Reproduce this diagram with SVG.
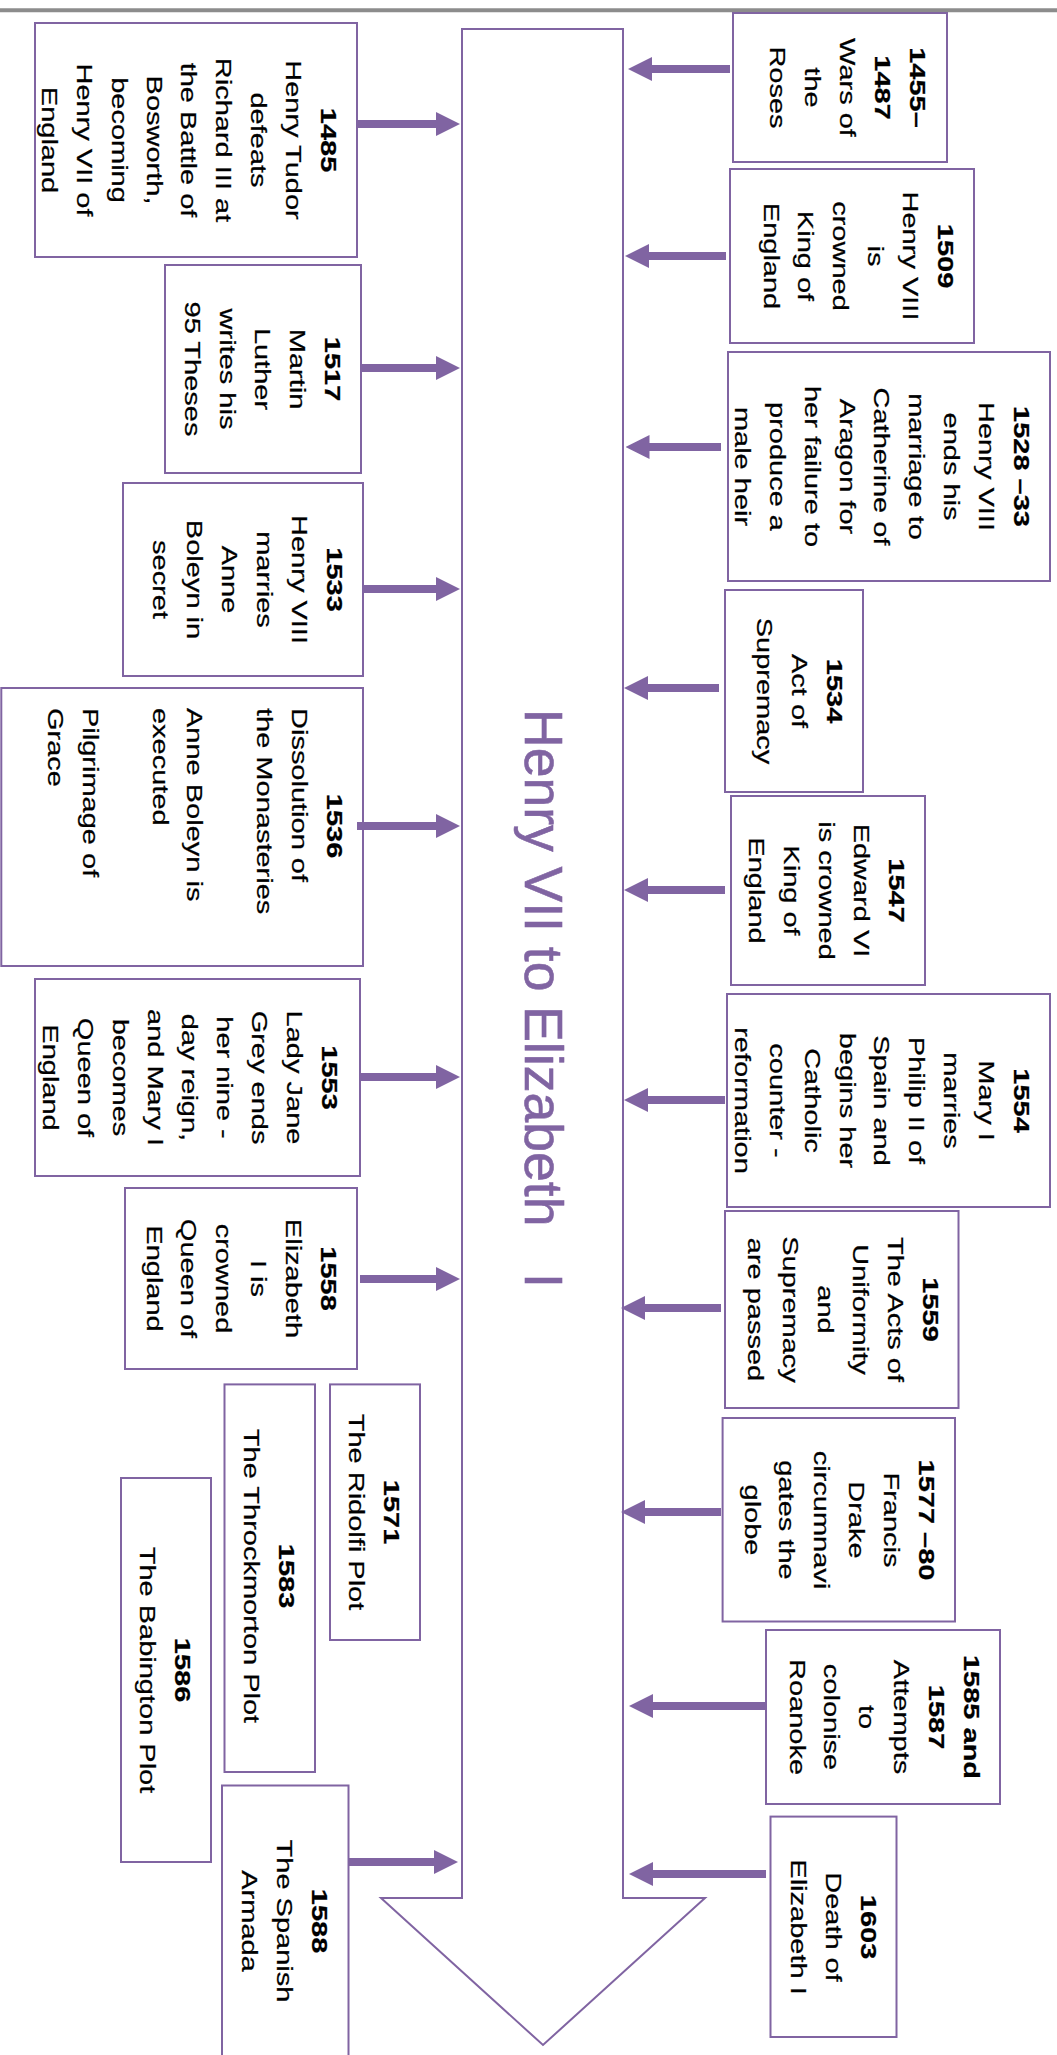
<svg xmlns="http://www.w3.org/2000/svg" width="1057" height="2055" viewBox="0 0 1057 2055">
<defs>
<style>
.box{fill:#fff;stroke:#8064A2;stroke-width:2}
.t{font-family:"Liberation Sans",Arial,sans-serif;font-size:29px;fill:#000;stroke:#000;stroke-width:0.3;text-anchor:middle}
.s{text-anchor:start}
.b{font-weight:bold}
.c{stroke:#8064A2;stroke-width:8;fill:none;marker-end:url(#ah)}
.title{font-family:"Liberation Sans",Arial,sans-serif;font-size:53.5px;fill:#8064A2;stroke:#8064A2;stroke-width:0.6}
</style>
<marker id="ah" markerUnits="userSpaceOnUse" markerWidth="24" markerHeight="24" refX="4" refY="12" orient="auto" viewBox="0 0 24 24">
<path d="M0,0 L24,12 L0,24 Z" fill="#8064A2"/>
</marker>
</defs>
<rect width="1057" height="2055" fill="#fff"/>
<line x1="0" y1="10.3" x2="1057" y2="10.3" stroke="#8c8c8c" stroke-width="4"/>

<g id="timeline">
<path d="M462,29 L623,29 L623,1898 L705,1898 L543,2045 L381,1898 L462,1898 Z" fill="#fff" stroke="#8064A2" stroke-width="2"/>
<text class="title" transform="translate(525,709) rotate(90)">Henry VII to Elizabeth <tspan x="564">I</tspan></text>
</g>

<g id="n1485">
<rect class="box" x="35" y="23" width="322" height="234"/>
<text class="t" transform="translate(321,140) rotate(90) scale(1,0.76)"><tspan class="b" x="0" y="0">1485</tspan><tspan x="0" y="45.9">Henry Tudor</tspan><tspan x="0" y="91.8">defeats</tspan><tspan x="0" y="137.7">Richard III at</tspan><tspan x="0" y="183.6">the Battle of</tspan><tspan x="0" y="229.5">Bosworth,</tspan><tspan x="0" y="275.4">becoming</tspan><tspan x="0" y="321.3">Henry VII of</tspan><tspan x="0" y="367.2">England</tspan></text>
</g>
<g id="n1517">
<rect class="box" x="165" y="265" width="196" height="208"/>
<text class="t" transform="translate(325,369) rotate(90) scale(1,0.76)"><tspan class="b" x="0" y="0">1517</tspan><tspan x="0" y="45.9">Martin</tspan><tspan x="0" y="91.8">Luther</tspan><tspan x="0" y="137.7">writes his</tspan><tspan x="0" y="183.6">95 Theses</tspan></text>
</g>
<g id="n1533">
<rect class="box" x="123" y="483" width="240" height="193"/>
<text class="t" transform="translate(327,579.5) rotate(90) scale(1,0.76)"><tspan class="b" x="0" y="0">1533</tspan><tspan x="0" y="45.9">Henry VIII</tspan><tspan x="0" y="91.8">marries</tspan><tspan x="0" y="137.7">Anne</tspan><tspan x="0" y="183.6">Boleyn in</tspan><tspan x="0" y="229.5">secret</tspan></text>
</g>
<g id="n1536">
<rect class="box" x="1.3" y="688" width="361.7" height="278"/>
<text class="t b" transform="translate(327,826) rotate(90) scale(1,0.76)">1536</text>
<text class="t s" transform="translate(327,708) rotate(90) scale(1,0.76)"><tspan x="0" y="45.9">Dissolution of</tspan><tspan x="0" y="91.8">the Monasteries</tspan><tspan x="0" y="183.6">Anne Boleyn is</tspan><tspan x="0" y="229.5">executed</tspan><tspan x="0" y="321.3">Pilgrimage of</tspan><tspan x="0" y="367.2">Grace</tspan></text>
</g>
<g id="n1553">
<rect class="box" x="35" y="979" width="325" height="197"/>
<text class="t" transform="translate(322,1077.5) rotate(90) scale(1,0.76)"><tspan class="b" x="0" y="0">1553</tspan><tspan x="0" y="45.9">Lady Jane</tspan><tspan x="0" y="91.8">Grey ends</tspan><tspan x="0" y="137.7">her nine -</tspan><tspan x="0" y="183.6">day reign,</tspan><tspan x="0" y="229.5">and Mary I</tspan><tspan x="0" y="275.4">becomes</tspan><tspan x="0" y="321.3">Queen of</tspan><tspan x="0" y="367.2">England</tspan></text>
</g>
<g id="n1558">
<rect class="box" x="125" y="1188" width="232" height="181"/>
<text class="t" transform="translate(321,1278.5) rotate(90) scale(1,0.76)"><tspan class="b" x="0" y="0">1558</tspan><tspan x="0" y="45.9">Elizabeth</tspan><tspan x="0" y="91.8">I is</tspan><tspan x="0" y="137.7">crowned</tspan><tspan x="0" y="183.6">Queen of</tspan><tspan x="0" y="229.5">England</tspan></text>
</g>
<g id="n1571">
<rect class="box" x="330" y="1384.4" width="90" height="255.6"/>
<text class="t" transform="translate(384,1512) rotate(90) scale(1,0.76)"><tspan class="b" x="0" y="0">1571</tspan><tspan x="0" y="45.9">The Ridolfi Plot</tspan></text>
</g>
<g id="n1583">
<rect class="box" x="224.5" y="1384.4" width="90.5" height="387.6"/>
<text class="t" transform="translate(279,1576) rotate(90) scale(1,0.76)"><tspan class="b" x="0" y="0">1583</tspan><tspan x="0" y="45.9">The Throckmorton Plot</tspan></text>
</g>
<g id="n1586">
<rect class="box" x="121" y="1478" width="90" height="384"/>
<text class="t" transform="translate(175,1670) rotate(90) scale(1,0.76)"><tspan class="b" x="0" y="0">1586</tspan><tspan x="0" y="45.9">The Babington Plot</tspan></text>
</g>
<g id="n1588">
<rect class="box" x="222" y="1785.5" width="126.5" height="280"/>
<text class="t" transform="translate(312,1921) rotate(90) scale(1,0.76)"><tspan class="b" x="0" y="0">1588</tspan><tspan x="0" y="45.9">The Spanish</tspan><tspan x="0" y="91.8">Armada</tspan></text>
</g>

<g id="n1455">
<rect class="box" x="733" y="13" width="214" height="149"/>
<text class="t" transform="translate(910,87.5) rotate(90) scale(1,0.76)"><tspan class="b" x="0" y="0">1455–</tspan><tspan class="b" x="0" y="45.9">1487</tspan><tspan x="0" y="91.8">Wars of</tspan><tspan x="0" y="137.7">the</tspan><tspan x="0" y="183.6">Roses</tspan></text>
</g>
<g id="n1509">
<rect class="box" x="730" y="169" width="244" height="174"/>
<text class="t" transform="translate(938,256) rotate(90) scale(1,0.76)"><tspan class="b" x="0" y="0">1509</tspan><tspan x="0" y="45.9">Henry VIII</tspan><tspan x="0" y="91.8">is</tspan><tspan x="0" y="137.7">crowned</tspan><tspan x="0" y="183.6">King of</tspan><tspan x="0" y="229.5">England</tspan></text>
</g>
<g id="n1528">
<rect class="box" x="728" y="352" width="322" height="229"/>
<text class="t" transform="translate(1014,466.5) rotate(90) scale(1,0.76)"><tspan class="b" x="0" y="0">1528 –33</tspan><tspan x="0" y="45.9">Henry VIII</tspan><tspan x="0" y="91.8">ends his</tspan><tspan x="0" y="137.7">marriage to</tspan><tspan x="0" y="183.6">Catherine of</tspan><tspan x="0" y="229.5">Aragon for</tspan><tspan x="0" y="275.4">her failure to</tspan><tspan x="0" y="321.3">produce a</tspan><tspan x="0" y="367.2">male heir</tspan></text>
</g>
<g id="n1534">
<rect class="box" x="725" y="590" width="138" height="202"/>
<text class="t" transform="translate(827,691) rotate(90) scale(1,0.76)"><tspan class="b" x="0" y="0">1534</tspan><tspan x="0" y="45.9">Act of</tspan><tspan x="0" y="91.8">Supremacy</tspan></text>
</g>
<g id="n1547">
<rect class="box" x="731" y="796" width="194" height="189"/>
<text class="t" transform="translate(889,890.5) rotate(90) scale(1,0.76)"><tspan class="b" x="0" y="0">1547</tspan><tspan x="0" y="45.9">Edward VI</tspan><tspan x="0" y="91.8">is crowned</tspan><tspan x="0" y="137.7">King of</tspan><tspan x="0" y="183.6">England</tspan></text>
</g>
<g id="n1554">
<rect class="box" x="727" y="994" width="323" height="213"/>
<text class="t" transform="translate(1014,1100.5) rotate(90) scale(1,0.76)"><tspan class="b" x="0" y="0">1554</tspan><tspan x="0" y="45.9">Mary I</tspan><tspan x="0" y="91.8">marries</tspan><tspan x="0" y="137.7">Philip II of</tspan><tspan x="0" y="183.6">Spain and</tspan><tspan x="0" y="229.5">begins her</tspan><tspan x="0" y="275.4">Catholic</tspan><tspan x="0" y="321.3">counter -</tspan><tspan x="0" y="367.2">reformation</tspan></text>
</g>
<g id="n1559">
<rect class="box" x="725" y="1211" width="233.5" height="197"/>
<text class="t" transform="translate(922.5,1309.5) rotate(90) scale(1,0.76)"><tspan class="b" x="0" y="0">1559</tspan><tspan x="0" y="45.9">The Acts of</tspan><tspan x="0" y="91.8">Uniformity</tspan><tspan x="0" y="137.7">and</tspan><tspan x="0" y="183.6">Supremacy</tspan><tspan x="0" y="229.5">are passed</tspan></text>
</g>
<g id="n1577">
<rect class="box" x="722.6" y="1418" width="232.4" height="203.5"/>
<text class="t" transform="translate(919,1520) rotate(90) scale(1,0.76)"><tspan class="b" x="0" y="0">1577 –80</tspan><tspan x="0" y="45.9">Francis</tspan><tspan x="0" y="91.8">Drake</tspan><tspan x="0" y="137.7">circumnavi</tspan><tspan x="0" y="183.6">gates the</tspan><tspan x="0" y="229.5">globe</tspan></text>
</g>
<g id="n1585">
<rect class="box" x="766" y="1630" width="234" height="174"/>
<text class="t" transform="translate(964,1717) rotate(90) scale(1,0.76)"><tspan class="b" x="0" y="0">1585 and</tspan><tspan class="b" x="0" y="45.9">1587</tspan><tspan x="0" y="91.8">Attempts</tspan><tspan x="0" y="137.7">to</tspan><tspan x="0" y="183.6">colonise</tspan><tspan x="0" y="229.5">Roanoke</tspan></text>
</g>
<g id="n1603">
<rect class="box" x="770.5" y="1816.6" width="126" height="220.4"/>
<text class="t" transform="translate(860.5,1927) rotate(90) scale(1,0.76)"><tspan class="b" x="0" y="0">1603</tspan><tspan x="0" y="45.9">Death of</tspan><tspan x="0" y="91.8">Elizabeth I</tspan></text>
</g>

<g id="connectors">
<line class="c" x1="357" y1="124" x2="440" y2="124"/>
<line class="c" x1="361" y1="368" x2="440" y2="368"/>
<line class="c" x1="363" y1="589" x2="440" y2="589"/>
<line class="c" x1="357" y1="826" x2="440" y2="826"/>
<line class="c" x1="360" y1="1077" x2="440" y2="1077"/>
<line class="c" x1="360" y1="1279" x2="440" y2="1279"/>
<line class="c" x1="348.5" y1="1862" x2="438" y2="1862"/>
<line class="c" x1="730" y1="69" x2="648" y2="69"/>
<line class="c" x1="726" y1="256" x2="645" y2="256"/>
<line class="c" x1="721" y1="447" x2="645.5" y2="447"/>
<line class="c" x1="719" y1="688" x2="644" y2="688"/>
<line class="c" x1="725" y1="890" x2="644" y2="890"/>
<line class="c" x1="725" y1="1100" x2="644" y2="1100"/>
<line class="c" x1="721" y1="1308" x2="641" y2="1308"/>
<line class="c" x1="721" y1="1512" x2="641" y2="1512"/>
<line class="c" x1="766" y1="1706" x2="649" y2="1706"/>
<line class="c" x1="766" y1="1874" x2="649" y2="1874"/>
</g>
</svg>
